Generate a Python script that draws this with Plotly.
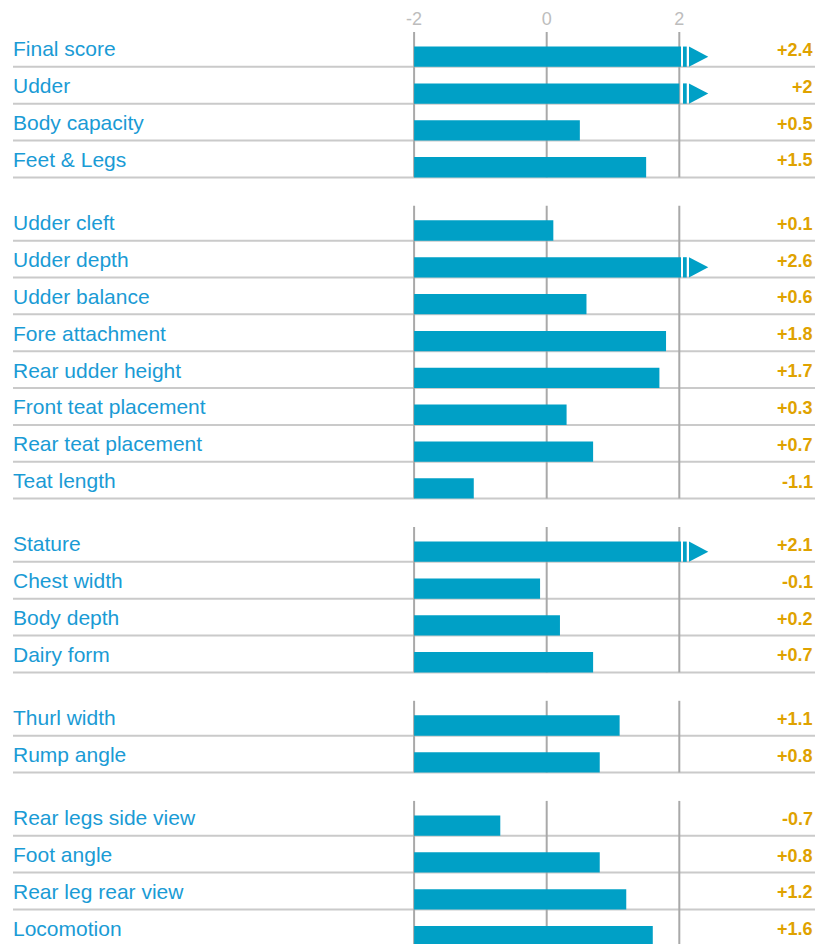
import plotly.graph_objects as go

# ---------------- data ----------------
group1_labels = ["Final score", "Udder", "Body capacity", "Feet & Legs"]
group1_values = [2.4, 2.0, 0.5, 1.5]
group2_labels = ["Udder cleft", "Udder depth", "Udder balance", "Fore attachment",
                 "Rear udder height", "Front teat placement", "Rear teat placement", "Teat length"]
group2_values = [0.1, 2.6, 0.6, 1.8, 1.7, 0.3, 0.7, -1.1]
group3_labels = ["Stature", "Chest width", "Body depth", "Dairy form"]
group3_values = [2.1, -0.1, 0.2, 0.7]
group4_labels = ["Thurl width", "Rump angle"]
group4_values = [1.1, 0.8]
group5_labels = ["Rear legs side view", "Foot angle", "Rear leg rear view", "Locomotion"]
group5_values = [-0.7, 0.8, 1.2, 1.6]
tick_values = [-2, 0, 2]
tick_labels = ["-2", "0", "2"]

groups = [(group1_labels, group1_values), (group2_labels, group2_values),
          (group3_labels, group3_values), (group4_labels, group4_values),
          (group5_labels, group5_values)]

# ---------------- style / layout constants ----------------
OFF = 8               # page body margin offset
W, H = 826 - OFF, 944 - OFF
TOP = 30 - OFF        # px of first row top (figure coords)
ROW_PX = 36.85        # px per row
GAP = 26.4 / ROW_PX   # gap between groups, in row units
BAR_H = 20.3 / ROW_PX
BASE = -2.0
CLIP = 2.026
STRIPE = (2.056, 2.112)
TRI = (2.146, 2.437)
X0_PX, UNIT_PX = 546.7 - OFF, 66.3
XRANGE = [-X0_PX / UNIT_PX, (W - X0_PX) / UNIT_PX]
YMAX = (H - TOP) / ROW_PX
LEFT_PX, RIGHT_PX = 13 - OFF, 815 - OFF
LABEL_PX = 11.3 - OFF

BAR_COLOR = "#00A0C6"
LABEL_COLOR = "#1A9BD5"
VALUE_COLOR = "#DFA200"
SEP_COLOR = "#CACACA"
GRID_COLOR = "#A9A9A9"
TICK_COLOR = "#BDBDBD"
FONT = "Liberation Sans, Arial, Helvetica, sans-serif"

# ---------------- build ----------------
bar_y, bar_len, shapes, annotations = [], [], [], []
k = 0
for g, (labels, values) in enumerate(groups):
    gtop = k + g * GAP
    for lab, v in zip(labels, values):
        top = k + g * GAP
        sep = top + 1
        yc = sep - BAR_H / 2
        bar_y.append(yc)
        bar_len.append(min(v, CLIP) - BASE)
        annotations.append(dict(x=LABEL_PX / W, xref="paper", y=sep - 18 / ROW_PX, yref="y",
                                text=lab, showarrow=False, xanchor="left", yanchor="middle",
                                font=dict(family=FONT, size=21, color=LABEL_COLOR)))
        annotations.append(dict(x=RIGHT_PX / W, xref="paper", y=sep - 17 / ROW_PX, yref="y",
                                text=f"<b>{v:+g}</b>", showarrow=False, xanchor="right",
                                yanchor="middle",
                                font=dict(family=FONT, size=18, color=VALUE_COLOR)))
        shapes.append(dict(type="line", xref="paper", yref="y", x0=LEFT_PX / W, x1=RIGHT_PX / W,
                           y0=sep, y1=sep, line=dict(color=SEP_COLOR, width=2), layer="below"))
        if v >= 2:
            y0, y1 = sep - BAR_H, sep
            shapes.append(dict(type="rect", xref="x", yref="y", x0=STRIPE[0], x1=STRIPE[1],
                               y0=y0, y1=y1, fillcolor=BAR_COLOR, line=dict(width=0),
                               layer="above"))
            shapes.append(dict(type="path", xref="x", yref="y",
                               path=f"M {TRI[0]},{y0} L {TRI[1]},{(y0 + y1) / 2} L {TRI[0]},{y1} Z",
                               fillcolor=BAR_COLOR, line=dict(width=0), layer="above"))
        k += 1
    gbot = k + g * GAP
    for tv in tick_values:
        shapes.append(dict(type="line", xref="x", yref="y", x0=tv, x1=tv,
                           y0=gtop + 2 / ROW_PX, y1=gbot,
                           line=dict(color=GRID_COLOR, width=2), layer="below"))

fig = go.Figure(go.Bar(orientation="h", y=bar_y, x=bar_len, base=BASE, width=BAR_H,
                       marker=dict(color=BAR_COLOR, line=dict(width=0)), hoverinfo="skip"))

fig.update_layout(
    width=W, height=H, margin=dict(l=0, r=0, t=TOP, b=0),
    paper_bgcolor="white", plot_bgcolor="white", showlegend=False,
    shapes=shapes, annotations=annotations,
    xaxis=dict(range=XRANGE, side="top", tickvals=tick_values, ticktext=tick_labels,
               showgrid=False, zeroline=False, showline=False, ticks="",
               tickfont=dict(family=FONT, size=18, color=TICK_COLOR), fixedrange=True),
    yaxis=dict(range=[YMAX, 0], visible=False, fixedrange=True),
)

fig.write_html("out.html")
